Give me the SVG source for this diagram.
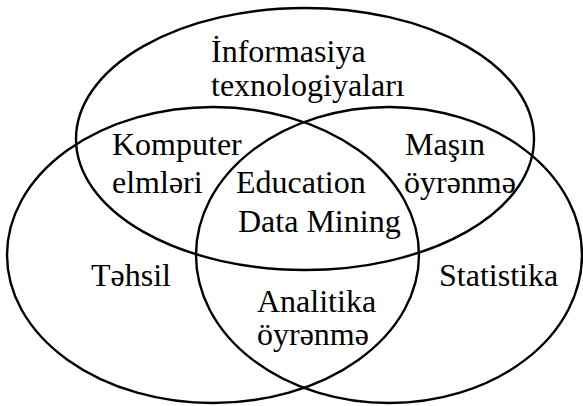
<svg xmlns="http://www.w3.org/2000/svg" width="583" height="406" viewBox="0 0 583 406">
<style>
.e{fill:none;stroke:#000;stroke-width:2.4}
text{font-family:"Liberation Serif","Times New Roman",serif;font-size:32px;fill:#000}
</style>
<rect width="583" height="406" fill="#fff"/>
<g id="connectors"></g>
<g id="top"><ellipse class="e" cx="305" cy="139" rx="229" ry="131"/></g>
<g id="left"><ellipse class="e" cx="213" cy="255" rx="206" ry="148"/></g>
<g id="right"><ellipse class="e" cx="389" cy="255" rx="193" ry="148"/></g>
<g id="labels">
<text x="211" y="62">İnformasiya</text>
<text x="211" y="96">texnologiyaları</text>
<text x="112" y="155">Komputer</text>
<text x="112" y="193">elmləri</text>
<text x="236" y="193">Education</text>
<text x="238" y="232">Data Mining</text>
<text x="405" y="155">Maşın</text>
<text x="404" y="193">öyrənmə</text>
<text x="91" y="286">Təhsil</text>
<text x="439" y="286">Statistika</text>
<text x="257" y="312">Analitika</text>
<text x="257" y="345">öyrənmə</text>
</g>
</svg>
